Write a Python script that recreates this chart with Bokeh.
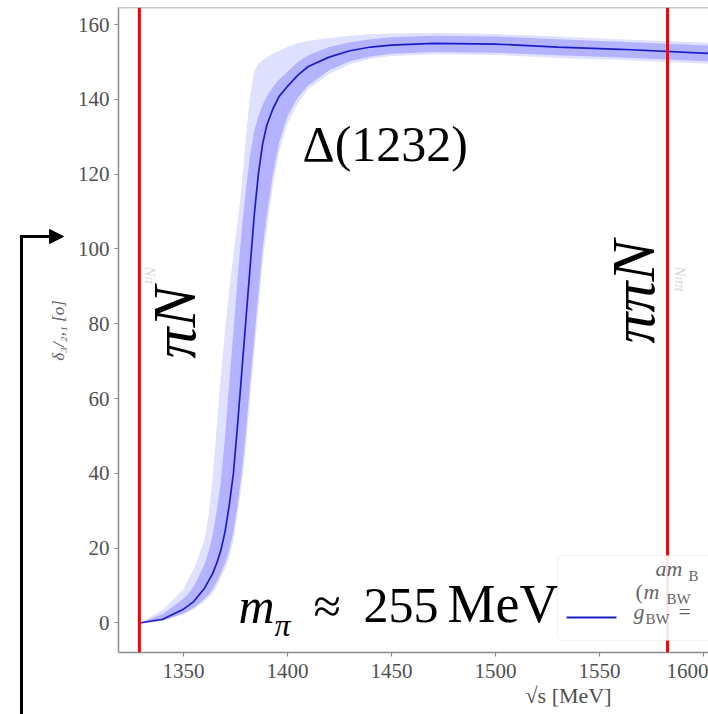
import math
from bokeh.plotting import figure
from bokeh.layouts import row
from bokeh.models import (Span, Label, Arrow, NormalHead, BoxAnnotation,
                          FixedTicker, Range1d, Title)
from bokeh.embed import file_html
from bokeh.resources import INLINE

# ---------------- data ----------------
sqrt_s = [1329, 1340, 1350, 1352, 1355, 1360, 1362, 1364, 1366, 1368, 1370,
          1372, 1374, 1376, 1378, 1380, 1382, 1384, 1386, 1388, 1390, 1393,
          1396, 1400, 1405, 1410, 1420, 1430, 1440, 1450, 1470, 1500, 1530,
          1560, 1603]
delta_central = [0, 1.0, 3.7, 4.5, 5.8, 9.2, 11.2, 13.2, 16, 19.5, 24.5,
                 31.5, 40, 53, 67, 81, 95, 109, 120, 128, 133, 137.5,
                 140.8, 143.5, 146.5, 148.8, 151.3, 153, 154, 154.5, 155, 154.8, 154,
                 153.4, 152.3]
inner_hi = [0, 2.4, 6.5, 7.6, 9.8, 15.5, 19, 23.5, 30, 38, 50,
            64, 78, 92, 105, 116, 125, 131.5, 135.5, 138.5, 140.8, 143.3,
            145.3, 147.4, 150, 151.8, 154, 155.3, 156.1, 156.6, 157, 156.8, 156.1,
            155.4, 154.4]
inner_lo = [0, 0.6, 2.6, 3.2, 4.1, 6.4, 7.5, 9, 11, 13.4, 16,
            19.5, 24.5, 31.5, 40, 51, 64, 76, 88, 100, 109, 120,
            128.5, 135.5, 140.5, 143.8, 147.8, 150.2, 151.5, 152.2, 152.7, 152.5, 151.8,
            151.2, 150.2]
outer_hi = [0, 3.5, 9, 11.4, 14.5, 22, 28.5, 39, 52.5, 66.5, 78.5,
            89, 98.5, 107.5, 117, 130, 141, 147.5, 149.5, 150.5, 151.2, 152.2,
            153, 154, 155, 155.6, 156.4, 157, 157.4, 157.6, 157.8, 157.5, 156.8,
            156.1, 155.1]
outer_lo = [0, 0.5, 2.3, 2.8, 3.7, 5.8, 6.8, 8, 9.8, 12.3, 14.5,
            17.5, 22, 29, 37, 47, 60, 72, 84, 96, 105, 117,
            126, 133.5, 139, 142.8, 146.8, 149.4, 150.9, 151.6, 152.1, 151.9, 151.1,
            150.5, 149.5]
thresholds = [1328.8, 1582.7]          # pi N and pi pi N thresholds
threshold_labels = ["πN", "ππN"]
x_ticks = [1350, 1400, 1450, 1500, 1550, 1600]
y_ticks = [0, 20, 40, 60, 80, 100, 120, 140, 160]
y_label = "δ₃/₂,₁ [o]"
x_label = "√s [MeV]"

# ---------------- geometry ----------------
W, H = 708, 714
SIDE = 70                              # left strip (arrow + y label)
FL, FR, FT, FB = 118, 708, 7, 652      # frame edges in page pixels
X0, X1 = 1318.75, 1602.4
Y0, Y1 = -7.89, 164.57
SERIF = "Liberation Serif"


def px_x(px):
    return X0 + (px - FL) / (FR - FL) * (X1 - X0)


def px_y(py):
    return Y1 - (py - FT) / (FB - FT) * (Y1 - Y0)


# ---------------- left strip: annotation arrow and y-axis title ----------------
q = figure(width=SIDE, height=H, output_backend="svg", toolbar_location=None,
           title=None,
           x_range=Range1d(0, SIDE), y_range=Range1d(H, 0),
           x_axis_location=None, y_axis_location=None,
           min_border=0, min_border_left=0, min_border_right=0,
           min_border_top=0, min_border_bottom=0)
q.outline_line_color = None
q.xgrid.visible = False
q.ygrid.visible = False
q.background_fill_color = "white"
q.border_fill_color = "white"
try:
    q.frame_align = False
except Exception:
    pass
q.line(x=[21, 21, 52], y=[H + 5, 236, 236], line_color="black", line_width=3,
       line_join="miter")
q.add_layout(Arrow(end=NormalHead(size=14, fill_color="black", line_color="black"),
                   x_start=45, y_start=236, x_end=63, y_end=236,
                   line_color="black", line_width=3))
q.add_layout(Label(x=57.5, y=330, text=y_label, angle=math.pi / 2,
                   text_font=SERIF, text_font_size="17px", text_font_style="italic",
                   text_color="#606060", text_align="center",
                   text_baseline="alphabetic"))

# ---------------- main plot ----------------
p = figure(width=W - SIDE, height=H, output_backend="svg", toolbar_location=None,
           x_range=Range1d(X0, X1), y_range=Range1d(Y0, Y1),
           min_border_left=FL - SIDE, min_border_right=W - FR, min_border_top=FT,
           min_border_bottom=H - FB)
try:
    p.frame_align = False
except Exception:
    pass
p.outline_line_color = None
p.xgrid.visible = False
p.ygrid.visible = False
p.background_fill_color = "white"
p.border_fill_color = "white"

for ax in (p.xaxis[0], p.yaxis[0]):
    ax.axis_line_color = "#8c8c8c"
    ax.axis_line_width = 1.5
    ax.major_tick_line_color = "#8c8c8c"
    ax.major_tick_line_width = 1.2
    ax.major_tick_in = 0
    ax.major_tick_out = 4
    ax.minor_tick_line_color = None
    ax.major_label_text_font = SERIF
    ax.major_label_text_font_size = "21px"
    ax.major_label_text_color = "#505050"

p.xaxis.ticker = FixedTicker(ticks=x_ticks)
p.yaxis.ticker = FixedTicker(ticks=y_ticks)
p.xaxis.major_label_standoff = 7
p.yaxis.major_label_standoff = 5

# x axis title, off-centre as in the (cropped) reference
p.add_layout(Title(text=x_label, align="left", offset=407, standoff=0,
                   text_font=SERIF, text_font_size="22px", text_font_style="normal",
                   text_color="#505050"), "below")

# top frame line
p.add_layout(Span(location=Y1, dimension="width", line_color="#9a9a9a", line_width=1.5))

# bands and central curve
p.varea(x=sqrt_s, y1=outer_lo, y2=outer_hi, fill_color="#0000ff", fill_alpha=0.12)
p.varea(x=sqrt_s, y1=inner_lo, y2=inner_hi, fill_color="#0000ff", fill_alpha=0.2)
p.line(x=sqrt_s, y=delta_central, line_color="#1c1cc8", line_width=1.7)

# threshold lines
for t in thresholds:
    p.add_layout(Span(location=t, dimension="height", line_color="red", line_width=3))


def lab(bx, by, text, fs, color="black", style="normal", angle=0.0, align="left",
        level="annotation"):
    """bx, by: page pixel position of the baseline start of the text."""
    off = 0.4 * fs   # compensate the renderer's baseline offset
    if angle == 0.0:
        by -= off
    elif angle > 0:
        bx -= off
    else:
        bx += off
    l = Label(x=px_x(bx), y=px_y(by), text=text, text_font=SERIF,
              text_font_size=f"{fs}px", text_color=color, text_font_style=style,
              angle=angle, text_align=align, text_baseline="alphabetic", level=level)
    p.add_layout(l)
    return l


# faint ghost labels
lab(143, 266, "Nπ", 15, color="#d8d8d8", style="italic", angle=-math.pi / 2)
lab(673, 266, "Nππ", 15, color="#d8d8d8", style="italic", angle=-math.pi / 2)

# threshold labels (rotated)
lab(198, 358, threshold_labels[0], 62, style="italic", angle=math.pi / 2)
lab(657, 343, threshold_labels[1], 62, style="italic", angle=math.pi / 2)

# resonance label
lab(302, 163, "Δ(1232)", 50)

# pion mass label
lab(238, 625, "m", 50, style="italic")
lab(274, 637, "π", 32, style="italic")
lab(313, 625, "≈", 50)
lab(363, 625, "255", 50)
lab(447, 625, "MeV", 54)

# legend (cropped in the reference)
p.add_layout(BoxAnnotation(left=px_x(557), right=px_x(760), top=px_y(555),
                           bottom=px_y(640), fill_color="white", fill_alpha=0.9,
                           line_color="#d6d6d6", line_width=1.2,
                           border_radius=5, level="overlay"))
p.add_layout(Arrow(end=None, x_start=px_x(566), y_start=px_y(617), x_end=px_x(616),
                   y_end=px_y(617), line_color="#1c1cc8", line_width=2, level="overlay"))
LG = "#666666"
lab(655, 577, "am", 22, color=LG, style="italic", level="overlay")
lab(688, 581, "B", 15, color=LG, level="overlay")
lab(635, 600, "(", 22, color=LG, level="overlay")
lab(643, 600, "m", 22, color=LG, style="italic", level="overlay")
lab(666, 604, "BW", 15, color=LG, level="overlay")
lab(633, 620, "g", 22, color=LG, style="italic", level="overlay")
lab(645, 624, "BW", 15, color=LG, level="overlay")
lab(678, 620, "=", 22, color=LG, level="overlay")

layout = row(q, p, spacing=0)
open("out.html", "w").write(file_html(layout, INLINE))
